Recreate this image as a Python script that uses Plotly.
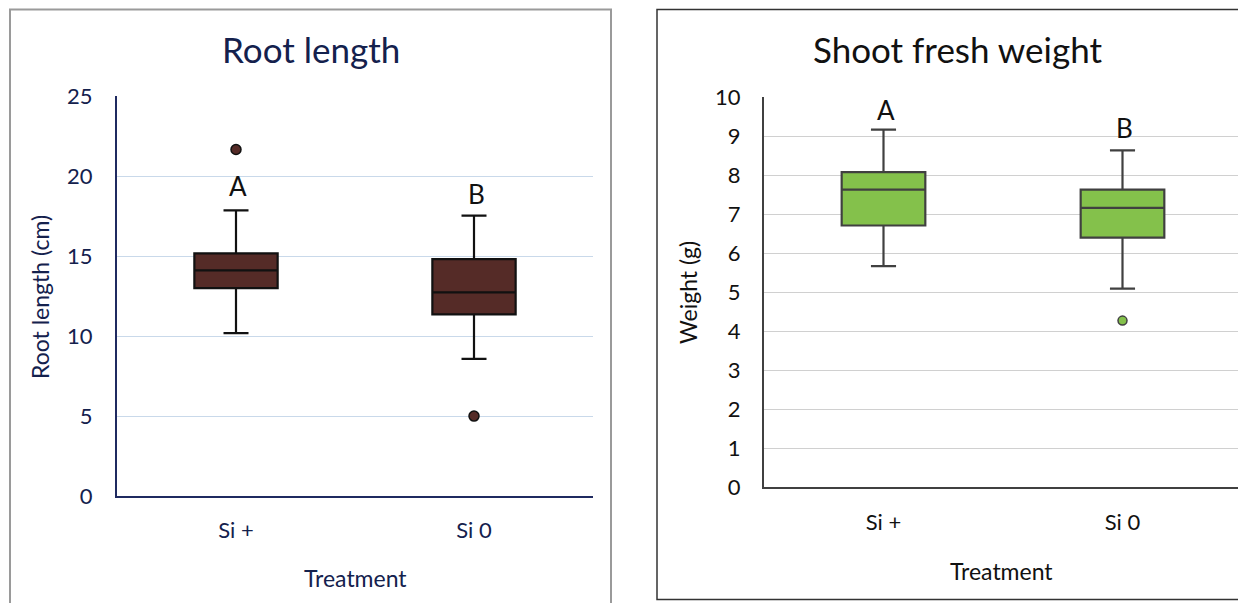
import plotly.graph_objects as go

W, H = 1246, 603
OFF = 8  # page body margin compensation

# ---------------- data ----------------
categories = ["Si +", "Si 0"]

root_q1 = [13.0, 11.36]
root_median = [14.11, 12.73]
root_q3 = [15.17, 14.81]
root_low = [10.19, 8.58]
root_high = [17.86, 17.54]
root_outlier_x = ["Si +", "Si 0"]
root_outlier_y = [21.67, 5.0]
root_letters = ["A", "B"]
root_letter_y = [19.42, 18.89]

shoot_q1 = [6.71, 6.40]
shoot_median = [7.63, 7.16]
shoot_q3 = [8.08, 7.63]
shoot_low = [5.67, 5.09]
shoot_high = [9.17, 8.64]
shoot_outlier_x = ["Si 0"]
shoot_outlier_y = [4.27]
shoot_letters = ["A", "B"]
shoot_letter_y = [9.68, 9.2]

root_ticks = [0, 5, 10, 15, 20, 25]
shoot_ticks = list(range(0, 11))

# ---------------- styles ----------------
FONT = "Lato"
NAVY = "#14214d"
BROWN = "#552b27"
GREEN = "#84c14b"
DARK = "#404040"

def px(x):
    return (x - OFF) / W

def py(y):
    return 1 - (y - OFF) / H

fig = go.Figure()

fig.add_trace(go.Box(
    x=categories, q1=root_q1, median=root_median, q3=root_q3,
    lowerfence=root_low, upperfence=root_high,
    fillcolor=BROWN, line=dict(color="#111111", width=2.2),
    whiskerwidth=0.3, boxpoints=False, showlegend=False,
    xaxis="x", yaxis="y"))
fig.add_trace(go.Scatter(
    x=root_outlier_x, y=root_outlier_y, mode="markers",
    marker=dict(color=BROWN, size=10, line=dict(color="#111111", width=1.5)),
    showlegend=False, xaxis="x", yaxis="y"))

fig.add_trace(go.Box(
    x=categories, q1=shoot_q1, median=shoot_median, q3=shoot_q3,
    lowerfence=shoot_low, upperfence=shoot_high,
    fillcolor=GREEN, line=dict(color=DARK, width=2.2),
    whiskerwidth=0.3, boxpoints=False, showlegend=False,
    xaxis="x2", yaxis="y2"))
fig.add_trace(go.Scatter(
    x=shoot_outlier_x, y=shoot_outlier_y, mode="markers",
    marker=dict(color=GREEN, size=9, line=dict(color=DARK, width=1.5)),
    showlegend=False, xaxis="x2", yaxis="y2"))

def ann(x, y, text, size, color, xref="paper", yref="paper", angle=0, xshift=0):
    return dict(x=x, y=y, xref=xref, yref=yref, text=text, showarrow=False,
                xanchor="center", yanchor="middle", textangle=angle, xshift=xshift,
                font=dict(family=FONT, size=size, color=color))

annotations = []
for c, t, yv in zip(categories, root_letters, root_letter_y):
    annotations.append(ann(c, yv, t, 26, "#111111", "x", "y", xshift=2))
for c, t, yv in zip(categories, shoot_letters, shoot_letter_y):
    annotations.append(ann(c, yv, t, 26, "#111111", "x2", "y2", xshift=2))

# titles
annotations.append(ann(px(311), py(49), "Root length", 35, NAVY))
annotations.append(ann(px(957), py(49), "Shoot fresh weight", 35, "#111111"))
# axis titles
annotations.append(ann(px(40), py(297), "Root length (cm)", 23, NAVY, angle=-90))
annotations.append(ann(px(688), py(293), "Weight (g)", 23, "#111111", angle=-90))
annotations.append(ann(px(355), py(578), "Treatment", 23, NAVY))
annotations.append(ann(px(1001), py(571), "Treatment", 23, "#111111"))

shapes = [
    dict(type="rect", xref="paper", yref="paper", x0=px(10), x1=px(611), y0=py(615), y1=py(9.5),
         line=dict(color="#9a9a9a", width=2), fillcolor="rgba(0,0,0,0)", layer="below"),
    dict(type="rect", xref="paper", yref="paper", x0=px(657), x1=px(1260), y0=py(599.5), y1=py(9.5),
         line=dict(color="#333333", width=1.5), fillcolor="rgba(0,0,0,0)", layer="below"),
]

TICK = 22
fig.update_layout(
    template="none",
    width=W, height=H, autosize=False,
    margin=dict(l=0, r=0, t=0, b=0, pad=0),
    paper_bgcolor="white", plot_bgcolor="white",
    boxgap=0.5, showlegend=False,
    font=dict(family=FONT),
    annotations=annotations, shapes=shapes,
    xaxis=dict(domain=[px(117), px(593)], type="category", showgrid=False, automargin=False,
               showline=True, linecolor="#1f2a60", linewidth=2, ticks="",
               tickfont=dict(family=FONT, size=TICK, color=NAVY), ticklabelstandoff=14,
               anchor="y", fixedrange=True),
    yaxis=dict(domain=[py(496), py(96.3)], range=[0, 25], tickvals=root_ticks, automargin=False,
               showgrid=True, gridcolor="#c9d9ea", gridwidth=1, zeroline=False,
               showline=True, linecolor="#1f2a60", linewidth=2, ticks="",
               tickfont=dict(family=FONT, size=TICK, color=NAVY), ticklabelstandoff=18,
               anchor="x", fixedrange=True),
    xaxis2=dict(domain=[px(764), px(1242)], type="category", showgrid=False, automargin=False,
                showline=True, linecolor=DARK, linewidth=2, ticks="",
                tickfont=dict(family=FONT, size=TICK, color="#111111"), ticklabelstandoff=15,
                anchor="y2", fixedrange=True),
    yaxis2=dict(domain=[py(487), py(97.3)], range=[0, 10], tickvals=shoot_ticks, automargin=False,
                showgrid=True, gridcolor="#d0d0d0", gridwidth=1, zeroline=False,
                showline=True, linecolor=DARK, linewidth=2, ticks="",
                tickfont=dict(family=FONT, size=TICK, color="#111111"), ticklabelstandoff=17,
                anchor="x2", fixedrange=True),
)

fig.write_html("out.html", config={"displayModeBar": False})
